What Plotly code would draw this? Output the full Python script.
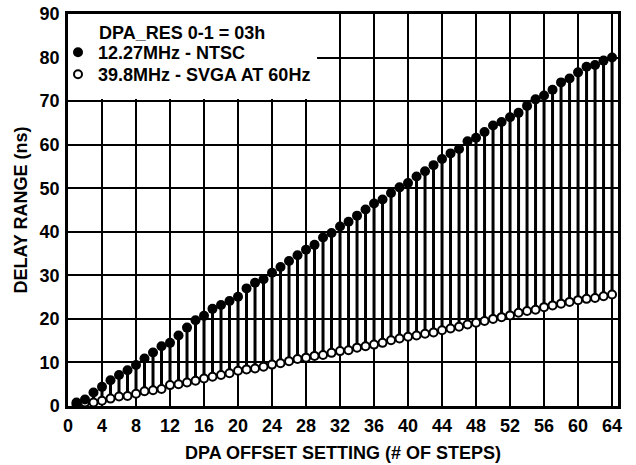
import plotly.graph_objects as go

# DPA offset setting (# of steps)
steps = list(range(1, 65))

# 12.27MHz - NTSC (filled dots), delay in ns
ntsc = [0.8, 1.5, 3.1, 4.4, 5.9, 7.1, 8.2, 9.4, 10.9, 12.3,
        13.7, 14.5, 16.2, 18.0, 19.7, 20.7, 22.3, 23.2, 24.1, 25.1,
        27.0, 28.3, 29.1, 30.6, 31.9, 33.3, 34.6, 35.9, 37.0, 38.7,
        39.7, 41.2, 42.3, 43.7, 45.1, 46.5, 47.4, 48.9, 50.2, 51.2,
        52.7, 53.9, 55.3, 56.7, 58.0, 59.0, 60.8, 61.6, 62.9, 64.4,
        65.2, 66.3, 67.3, 68.9, 70.4, 71.3, 72.6, 74.3, 75.2, 76.6,
        77.9, 78.3, 79.3, 80.0]

# 39.8MHz - SVGA at 60Hz (open dots), delay in ns
svga = [0.4, 0.8, 0.8, 1.2, 1.7, 2.2, 2.3, 2.8, 3.4, 3.6,
        3.9, 4.8, 5.0, 5.4, 5.8, 6.3, 6.7, 7.1, 7.5, 8.1,
        8.4, 8.6, 9.0, 9.5, 9.8, 10.3, 10.8, 11.1, 11.5, 11.7,
        12.2, 12.6, 12.8, 13.4, 13.7, 14.1, 14.5, 15.1, 15.5, 15.9,
        16.2, 16.6, 16.9, 17.4, 17.8, 18.2, 18.7, 19.1, 19.5, 20.0,
        20.4, 20.8, 21.4, 21.8, 22.1, 22.7, 23.1, 23.5, 23.9, 24.3,
        24.6, 24.8, 25.2, 25.6]

x_ticks = list(range(0, 65, 4))
y_ticks = list(range(0, 91, 10))

FONT = dict(family="Liberation Sans, Arial, sans-serif", size=18, color="black", weight="bold")

W, H = 636, 465
PLOT_W, PLOT_H = 550, 392


def px_x(px):  # plot-relative px -> paper x
    return px / PLOT_W


def px_y(px):  # px below plot top -> paper y
    return 1 - px / PLOT_H


# stems: one vertical segment per step, open dot -> filled dot
stem_x, stem_y = [], []
for s, lo, hi in zip(steps, svga, ntsc):
    stem_x += [s, s, None]
    stem_y += [lo, hi, None]

fig = go.Figure()
fig.add_trace(go.Scatter(
    x=stem_x, y=stem_y, mode="lines",
    line=dict(color="black", width=3),
    showlegend=False, hoverinfo="skip",
))
fig.add_trace(go.Scatter(
    x=steps, y=svga, mode="markers",
    name="39.8MHz - SVGA AT 60Hz",
    marker=dict(symbol="circle", size=8, color="white",
                line=dict(color="black", width=2)),
    legend="legend2",
))
fig.add_trace(go.Scatter(
    x=steps, y=ntsc, mode="markers",
    name="12.27MHz - NTSC",
    marker=dict(symbol="circle", size=10, color="black"),
    legend="legend",
))

# white box behind the legend (covers the grid in the top-left corner)
fig.add_shape(type="rect", xref="x", yref="y",
              x0=0, x1=29.3, y0=70.5, y1=90,
              fillcolor="white", line=dict(width=0), layer="between")

fig.add_annotation(text="DPA_RES 0-1 = 03h", xref="paper", yref="paper",
                   x=px_x(29), y=px_y(19),
                   xanchor="left", yanchor="middle", showarrow=False, font=FONT)

axis = dict(showgrid=True, gridcolor="black", gridwidth=2,
            showline=True, linecolor="black", linewidth=2.5, mirror=True,
            ticks="", ticklen=0, zeroline=False, tickfont=FONT, title_font=FONT,
            ticklabeloverflow="allow")

fig.update_xaxes(range=[0, 64.7], tickvals=x_ticks, ticklabelstandoff=2,
                 title_text="DPA OFFSET SETTING (# OF STEPS)", title_standoff=12, **axis)
fig.update_yaxes(range=[0, 90], tickvals=y_ticks, ticklabelstandoff=2,
                 title_text="DELAY RANGE (ns)", title_standoff=8, **axis)

leg = dict(bgcolor="rgba(0,0,0,0)", borderwidth=0, font=FONT,
           xanchor="left", yanchor="top", itemclick=False)
fig.update_layout(
    width=W, height=H,
    margin=dict(l=68, r=18, t=14, b=59, autoexpand=False),
    paper_bgcolor="white", plot_bgcolor="white",
    font=FONT,
    showlegend=True,
    legend=dict(x=px_x(-10), y=px_y(20), **leg),
    legend2=dict(x=px_x(-10), y=px_y(42), **leg),
)

# drop the default 8px page margin so the figure fills the window
fig.write_html("out.html", config={"displayModeBar": False},
               post_script="document.body.style.margin='0';")
